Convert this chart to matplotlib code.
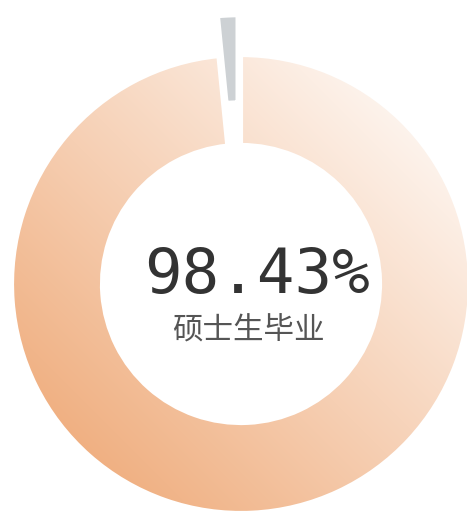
import numpy as np
import matplotlib
matplotlib.use('Agg')
from matplotlib import pyplot as plt

# данные
labels = ['硕士生毕业', '其他']
values = [98.43, 1.57]
center_text = '98.43%'

plt.rcParams['font.family'] = ['Noto Sans CJK SC', 'DejaVu Sans']

fig = plt.figure(figsize=(4.67, 5.13), dpi=100)
ax = fig.add_axes([0, 0, 1, 1])

cx, cy = 241, 229
radius = 229
ring = 90
explode = [0.0, 0.18 * radius]  # серый сектор вынесен наружу

wedges, _ = ax.pie(values, radius=radius, center=(cx, cy), startangle=90,
                   counterclock=False, explode=explode,
                   colors=['none', '#CDD1D4'],
                   wedgeprops=dict(width=ring, edgecolor='white', linewidth=3))
wedges[1].set_linewidth(5)

# градиент для оранжевого кольца
n = 400
xs = np.linspace(cx - radius, cx + radius, n)
ys = np.linspace(cy - radius, cy + radius, n)
X, Y = np.meshgrid(xs, ys)
t = ((X - cx) + (Y - cy)) / np.sqrt(2)
t = (t + radius) / (2 * radius)
t = np.clip(t, 0, 1)
dark = np.array([240, 176, 130]) / 255
pale = np.array([253, 243, 236]) / 255
img = dark[None, None, :] * (1 - t[..., None]) + pale[None, None, :] * t[..., None]
im = ax.imshow(img, extent=(cx - radius, cx + radius, cy - radius, cy + radius),
               origin='lower', zorder=0.5, interpolation='bilinear')
im.set_clip_path(wedges[0])
wedges[0].set_zorder(1)

ax.text(257, 513 - 276, center_text, ha='center', va='center', fontsize=45,
        family='DejaVu Sans Mono', color='#333333')
ax.text(248, 513 - 331, labels[0], ha='center', va='center', fontsize=22,
        color='#555555')

ax.set_xlim(0, 467)
ax.set_ylim(0, 513)
ax.set_aspect('equal')
ax.axis('off')

plt.savefig('out.png', dpi=100)
